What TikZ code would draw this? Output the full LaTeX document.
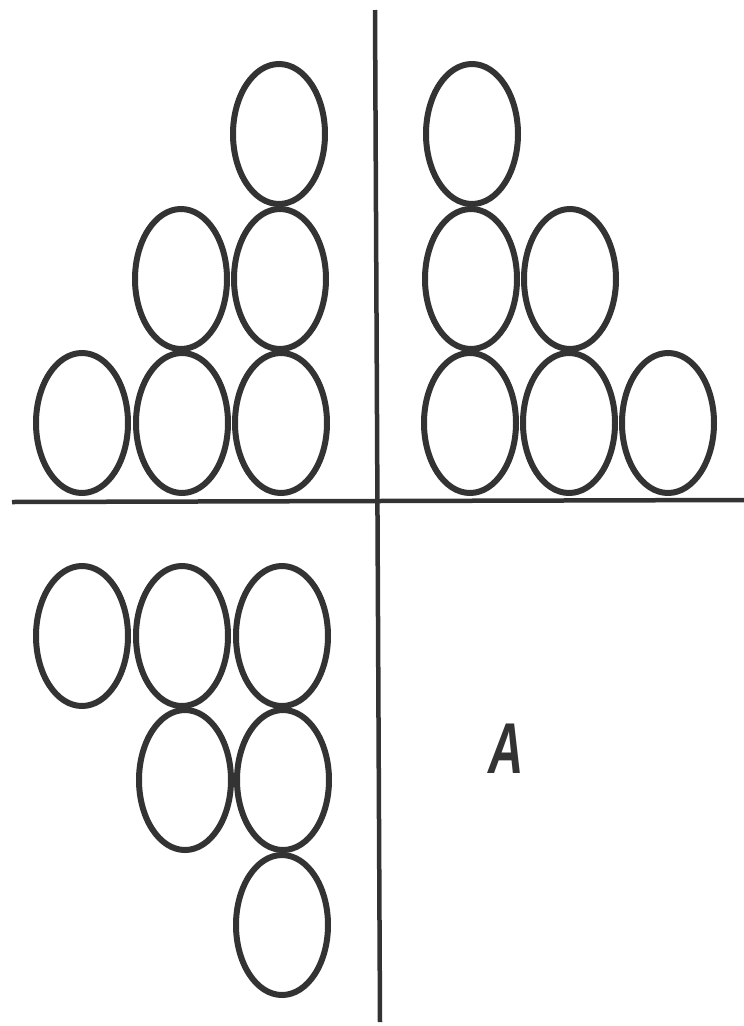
\documentclass[tikz,border=0pt]{standalone}
\usepackage{fontspec}
\setmainfont{Liberation Sans}
\definecolor{ink}{HTML}{333333}
\begin{document}
\begin{tikzpicture}[x=1pt,y=-1pt,
  ball/.style={draw=ink,line width=6pt},
  rule/.style={draw=ink,line width=4.5pt}]
\useasboundingbox (0,0) rectangle (744,1026);
\fill[white] (0,0) rectangle (744,1026);
% axes
\draw[rule] (375,10) -- (380,1022);
\draw[rule] (12,502) -- (744,500);
% top-left
\foreach \x/\y in {82/423,182/423,281/423,181/279,280/279,279/134}
  \draw[ball] (\x,\y) ellipse [x radius=46, y radius=70];
% top-right
\foreach \x/\y in {470/423,569/423,668/423,471/279,570/279,472/134}
  \draw[ball] (\x,\y) ellipse [x radius=46, y radius=70];
% bottom-left
\foreach \x/\y in {82/636,182/636,282/636,185/780,283/780,282/925}
  \draw[ball] (\x,\y) ellipse [x radius=46, y radius=70];
\node[text=ink,font={\fontsize{72}{72}\selectfont\bfseries\itshape},xscale=0.68,anchor=base] (lab) at (506,773) {A};
\end{tikzpicture}
\end{document}
